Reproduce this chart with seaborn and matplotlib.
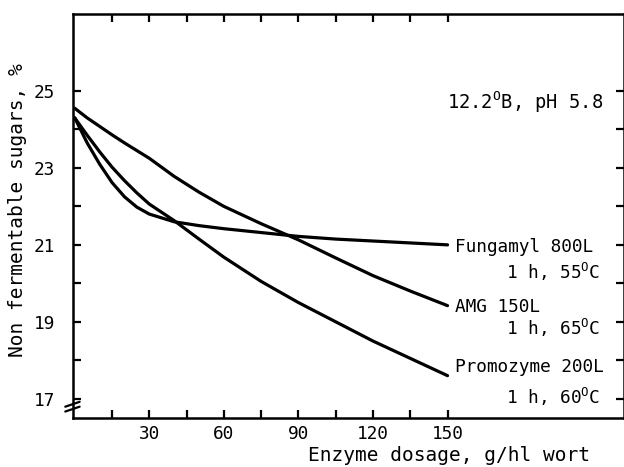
import numpy as np
import pandas as pd
import seaborn as sns
import matplotlib
matplotlib.use("Agg")
import matplotlib.pyplot as plt

# dosage, g/hl wort
dosage = [0, 5, 10, 15, 20, 25, 30, 40, 50, 60, 75, 90, 105, 120, 135, 150]

# non fermentable sugars, %
fungamyl = [24.3, 23.65, 23.1, 22.62, 22.25, 21.98, 21.8, 21.6, 21.5, 21.42, 21.32, 21.22, 21.15, 21.1, 21.05, 21.0]
amg = [24.55, 24.3, 24.08, 23.86, 23.65, 23.45, 23.25, 22.78, 22.37, 22.0, 21.55, 21.13, 20.66, 20.2, 19.8, 19.42]
promozyme = [24.3, 23.85, 23.42, 23.02, 22.67, 22.35, 22.06, 21.63, 21.15, 20.68, 20.05, 19.5, 19.0, 18.5, 18.05, 17.6]

enzymes = ["Fungamyl 800L", "AMG 150L", "Promozyme 200L"]
conditions = ["1 h, 55$^\\mathregular{O}$C", "1 h, 65$^\\mathregular{O}$C", "1 h, 60$^\\mathregular{O}$C"]

x_major = [30, 60, 90, 120, 150]
x_minor = [15, 45, 75, 105, 135]
y_major = [17, 19, 21, 23, 25]
y_minor = [18, 20, 22, 24]

df = pd.DataFrame({
    "dosage": dosage * 3,
    "sugars": fungamyl + amg + promozyme,
    "enzyme": [e for e in enzymes for _ in dosage],
})

sns.set_style("white")
plt.rcParams["font.family"] = ["DejaVu Sans Mono"]
plt.rcParams["text.color"] = "black"
plt.rcParams["axes.labelcolor"] = "black"
plt.rcParams["xtick.color"] = "black"
plt.rcParams["ytick.color"] = "black"

fig = plt.figure(figsize=(6.24, 4.67), dpi=100)
ax = fig.add_axes([73 / 624, 1 - 418 / 467, 551 / 624, 404 / 467])

sns.lineplot(data=df, x="dosage", y="sugars", hue="enzyme",
             palette=["black"] * 3, linewidth=2.3, legend=False, ax=ax)

ax.set_xlim(-0.7, 221)
ax.set_ylim(16.5, 27.0)

ax.set_xticks(x_major)
ax.set_xticks(x_minor, minor=True)
ax.set_yticks(y_major)
ax.set_yticks(y_minor, minor=True)
ax.tick_params(which="both", direction="in", length=6, width=1.6, color="black",
               top=True, right=True, bottom=True, left=True,
               labelcolor="black", labelsize=12.8)
ax.tick_params(axis="x", pad=5)
ax.tick_params(axis="y", pad=13)

for s in ax.spines.values():
    s.set_linewidth(1.8)
    s.set_color("black")

ax.set_xlabel("Enzyme dosage, g/hl wort", fontsize=14)
ax.set_ylabel("Non fermentable sugars, %", fontsize=14)
ax.xaxis.set_label_coords(0.682, -0.07)
ax.yaxis.set_label_coords(-0.083, 0.514)

# curve labels
name_y = [20.95, 19.39, 17.83]
cond_y = [20.30, 18.84, 17.05]
for name, cond, ny, cy in zip(enzymes, conditions, name_y, cond_y):
    ax.text(153, ny, name, ha="left", va="center", fontsize=12.8)
    ax.text(211.5, cy, cond, ha="right", va="center", fontsize=12.8)

ax.text(212.8, 24.71, "12.2$^\\mathregular{O}$B, pH 5.8", ha="right", va="center", fontsize=13.5)

# axis break marks
for dy in (0.022, 0.034):
    ax.plot([-0.014, 0.012], [dy - 0.006, dy + 0.006], transform=ax.transAxes,
            color="black", linewidth=1.6, clip_on=False)

plt.savefig("out.png", dpi=100)
